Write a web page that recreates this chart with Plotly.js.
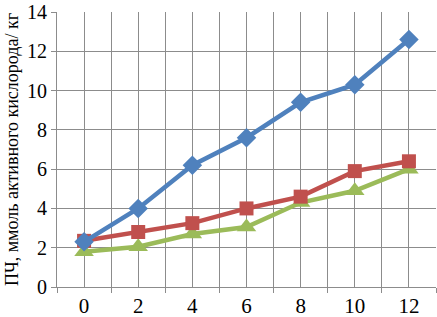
<!DOCTYPE html>
<html><head><meta charset="utf-8">
<script src="https://cdn.plot.ly/plotly-3.0.1.min.js"></script>
<style>html,body{margin:0;padding:0;background:#fff}#c{width:437px;height:317px}</style>
</head><body><div id="c"></div>
<script>
const xVals = [0, 2, 4, 6, 8, 10, 12];
const blueVals = [2.3, 4.0, 6.2, 7.6, 9.4, 10.3, 12.6];
const redVals = [2.35, 2.8, 3.25, 4.0, 4.6, 5.9, 6.4];
const greenVals = [1.8, 2.05, 2.7, 3.05, 4.3, 4.9, 6.0];
const yTitle = "ПЧ, ммоль активного кислорода/ кг";

const SERIF = '"Times New Roman", "Liberation Serif", serif';
const traces = [
  {x: xVals, y: greenVals, mode: 'lines+markers', line: {color: '#9BBB59', width: 4.5},
   marker: {symbol: 'triangle-up', size: 17, color: '#9BBB59'}},
  {x: xVals, y: redVals, mode: 'lines+markers', line: {color: '#C0504D', width: 4.5},
   marker: {symbol: 'square', size: 14, color: '#C0504D'}},
  {x: xVals, y: blueVals, mode: 'lines+markers', line: {color: '#4F81BD', width: 4.5},
   marker: {symbol: 'diamond', size: 15, color: '#4F81BD'}}
];
const layout = {
  width: 437, height: 317,
  margin: {l: 57, r: 1, t: 12, b: 30},
  showlegend: false,
  paper_bgcolor: '#fff', plot_bgcolor: '#fff',
  font: {family: SERIF, color: '#000'},
  xaxis: {
    range: [-1, 13], tickmode: 'array', tickvals: xVals, ticktext: xVals.map(String),
    showgrid: true, gridcolor: '#8c8c8c', gridwidth: 1, ticks: '',
    tickfont: {family: SERIF, size: 21, color: '#000'}, zeroline: false,
    showline: true, linecolor: '#8c8c8c', linewidth: 1,
    ticklabelstandoff: 0,
    minor: {tickmode: 'array', tickvals: [-1, 1, 3, 5, 7, 9, 11, 13], showgrid: true,
            gridcolor: '#8c8c8c', gridwidth: 1, ticks: 'outside', ticklen: 5, tickcolor: '#8c8c8c'},
    fixedrange: true
  },
  yaxis: {
    range: [0, 14], tickmode: 'array', tickvals: [0, 2, 4, 6, 8, 10, 12, 14],
    showgrid: true, gridcolor: '#8c8c8c', gridwidth: 1,
    ticks: 'outside', ticklen: 5, tickcolor: '#8c8c8c',
    tickfont: {family: SERIF, size: 20, color: '#000'}, zeroline: false,
    showline: true, linecolor: '#8c8c8c', linewidth: 1,
    ticklabeloverflow: 'allow',
    title: {text: yTitle, font: {family: SERIF, size: 18, color: '#000'}, standoff: 3},
    fixedrange: true
  }
};
Plotly.newPlot('c', traces, layout, {displayModeBar: false, staticPlot: true});
</script></body></html>
